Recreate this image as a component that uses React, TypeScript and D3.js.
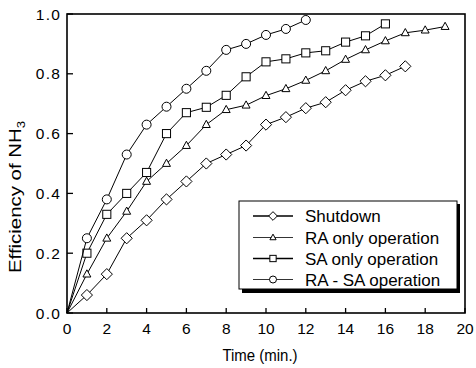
import React from "react";
import * as d3 from "d3";

const time = [0, 1, 2, 3, 4, 5, 6, 7, 8, 9, 10, 11, 12, 13, 14, 15, 16, 17, 18, 19];
const shutdown = [0, 0.06, 0.13, 0.25, 0.31, 0.38, 0.44, 0.5, 0.53, 0.56, 0.63, 0.655, 0.685, 0.705, 0.745, 0.775, 0.795, 0.825];
const raOnly = [0, 0.13, 0.25, 0.34, 0.44, 0.5, 0.56, 0.63, 0.68, 0.695, 0.727, 0.75, 0.778, 0.81, 0.848, 0.88, 0.91, 0.937, 0.946, 0.958];
const saOnly = [0, 0.2, 0.33, 0.4, 0.47, 0.6, 0.67, 0.688, 0.728, 0.79, 0.84, 0.85, 0.87, 0.877, 0.906, 0.927, 0.967];
const raSa = [0, 0.25, 0.38, 0.53, 0.63, 0.69, 0.75, 0.81, 0.88, 0.9, 0.93, 0.95, 0.98];

const seriesNames = ["Shutdown", "RA only operation", "SA only operation", "RA - SA operation"];
const seriesMarkers = ["diamond", "triangle", "square", "circle"];
const xTicks = [0, 2, 4, 6, 8, 10, 12, 14, 16, 18, 20];
const yTicks = [0, 0.2, 0.4, 0.6, 0.8, 1.0];

const L = 67, R = 465, T = 14, B = 313;
const FONT = "'Liberation Sans', Arial, Helvetica, sans-serif";

function Marker({ type, x, y, s }: { type: string; x: number; y: number; s: number }) {
  const common = { fill: "white", stroke: "black", strokeWidth: 1 };
  if (type === "circle") return <circle cx={x} cy={y} r={s * 0.5} {...common} />;
  if (type === "square") return <rect x={x - s * 0.45} y={y - s * 0.45} width={s * 0.9} height={s * 0.9} {...common} />;
  if (type === "triangle") {
    const h = s * 0.8;
    return <path d={`M${x},${y - h * 0.6} L${x + h * 0.55},${y + h * 0.4} L${x - h * 0.55},${y + h * 0.4} Z`} {...common} />;
  }
  const d = s * 0.62;
  return <path d={`M${x},${y - d} L${x + d},${y} L${x},${y + d} L${x - d},${y} Z`} {...common} />;
}

export default function App() {
  const x = d3.scaleLinear().domain([0, 20]).range([L, R]);
  const y = d3.scaleLinear().domain([0, 1]).range([B, T]);
  const series = [shutdown, raOnly, saOnly, raSa];
  const line = d3.line<[number, number]>().x(d => x(d[0])).y(d => y(d[1]));

  const legendRows = [216, 237.5, 258.5, 279.5];

  return (
    <svg width={476} height={368} style={{ position: "absolute", left: 0, top: 0, background: "white" }} fontFamily={FONT}>
      <rect x={0} y={0} width={476} height={368} fill="white" />
      {series.map((vals, i) => {
        const pts = vals.map((v, j) => [time[j], v] as [number, number]);
        return (
          <g key={i}>
            <path d={line(pts) || ""} fill="none" stroke="black" strokeWidth={1} />
            {pts.slice(1).map((p, j) => (
              <Marker key={j} type={seriesMarkers[i]} x={x(p[0])} y={y(p[1])} s={9} />
            ))}
          </g>
        );
      })}
      {/* frame */}
      <rect x={L} y={T} width={R - L} height={B - T} fill="none" stroke="black" strokeWidth={1.6} />
      {xTicks.map(t => (
        <g key={t}>
          <line x1={x(t)} x2={x(t)} y1={B} y2={B - 5} stroke="black" strokeWidth={1.3} />
          <text x={x(t)} y={334} textAnchor="middle" fontSize={15.5}>{t}</text>
        </g>
      ))}
      {yTicks.map(t => (
        <g key={t}>
          <line x1={L} x2={L + 6} y1={y(t)} y2={y(t)} stroke="black" strokeWidth={1.3} />
          <text x={61} y={y(t) + 5.5} textAnchor="end" fontSize={15.5} letterSpacing={1.2}>{t.toFixed(1)}</text>
        </g>
      ))}
      <text transform={`translate(260,361) scale(1,1.1)`} textAnchor="middle" fontSize={15}>Time (min.)</text>
      <text transform={`translate(21,197) rotate(-90) scale(1.2,1)`} textAnchor="middle" fontSize={17}>
        Efficiency of NH<tspan fontSize={11} dy={4}>3</tspan>
      </text>
      {/* legend */}
      <rect x={242} y={204} width={218} height={89} fill="black" />
      <rect x={239} y={201} width={218} height={88} fill="white" stroke="black" strokeWidth={1} />
      {seriesNames.map((n, i) => (
        <g key={n}>
          <line x1={253} x2={293} y1={legendRows[i]} y2={legendRows[i]} stroke="black" strokeWidth={i % 2 === 0 ? 1.4 : 0.8} />
          <Marker type={seriesMarkers[i]} x={273} y={legendRows[i]} s={7} />
          <text x={305} y={legendRows[i] + 6} fontSize={17}>{n}</text>
        </g>
      ))}
    </svg>
  );
}
